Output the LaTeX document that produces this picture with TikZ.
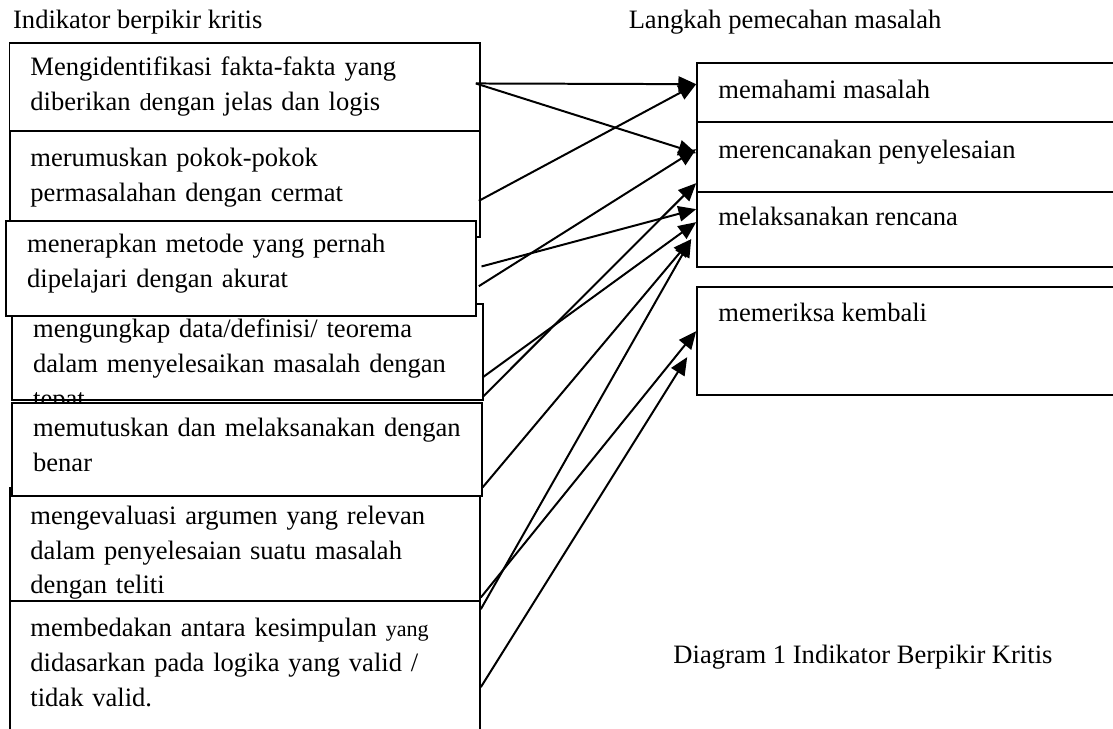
\documentclass[tikz,border=0pt]{standalone}
\usepackage{fontspec}
\setmainfont{Liberation Serif}
\usetikzlibrary{arrows.meta,calc,fit}

\begin{document}
\begin{tikzpicture}[x=0.452pt, y=-0.452pt,
    kotak/.style={draw, fill=white, line width=0.75pt, inner sep=0pt},
    teks/.style={anchor=base west, inner sep=0pt, align=left, text width=205pt, font=\fontsize{12pt}{15.7pt}\selectfont},
    judul/.style={anchor=base west, inner sep=0pt, font=\fontsize{12pt}{15.7pt}\selectfont},
    panah/.style={-{Triangle[length=8pt, width=7pt]}, line width=0.9pt}]
\clip (0,0) rectangle (1113,729);

\node[judul] (jkiri) at (12.7,29) {Indikator berpikir kritis};
\node[judul] (jkanan) at (628.3,29) {Langkah pemecahan masalah};

% indikator berpikir kritis
\node[kotak, fit={(9.5,42.7) (480,130.7)}] (ind1) {};
\node[teks] (t1) at (30,76) {Mengidentifikasi fakta-fakta yang\\diberikan {\fontsize{11pt}{15.7pt}\selectfont d}engan jelas dan logis};
\node[kotak, fit={(10,131) (480,236.7)}] (ind2) {};
\node[teks] (t2) at (30,166.7) {merumuskan pokok-pokok\\permasalahan dengan cermat};
\node[kotak, fit={(12,304) (482.7,400)}] (ind4) {};
\node[teks] (t4) at (32.7,337.7) {mengungkap data/definisi/ teorema\\dalam menyelesaikan masalah dengan\\tepat};
\node[kotak, fit={(6,220.7) (476,316)}] (ind3) {};
\node[teks] (t3) at (26.7,253) {menerapkan metode yang pernah\\dipelajari dengan akurat};
\node[kotak, fit={(10,601) (480,760)}] (ind7) {};
\node[teks] (t7) at (30,636.7) {membedakan antara kesimpulan {\fontsize{10pt}{15.7pt}\selectfont yang}\\didasarkan pada logika yang valid /\\tidak valid.};
\node[kotak, fit={(10,488) (480,600.7)}] (ind6) {};
\node[teks] (t6) at (30,524.3) {mengevaluasi argumen yang relevan\\dalam penyelesaian suatu masalah\\dengan teliti};
\node[kotak, fit={(12,402.7) (481.7,496)}] (ind5) {};
\node[teks] (t5) at (32.7,436.7) {memutuskan dan melaksanakan dengan\\benar};

% langkah pemecahan masalah
\node[kotak, fit={(697,63) (1120,122)}] (lk1) {};
\node[judul] (s1) at (718,98.3) {memahami masalah};
\node[kotak, fit={(697,122) (1120,192)}] (lk2) {};
\node[judul] (s2) at (718,158.3) {merencanakan penyelesaian};
\node[kotak, fit={(697,192) (1120,267)}] (lk3) {};
\node[judul] (s3) at (718,226) {melaksanakan rencana};
\node[kotak, fit={(697,287) (1120,395)}] (lk4) {};
\node[judul] (s4) at (718,321.7) {memeriksa kembali};

\node[judul] (cap) at (673,663) {Diagram 1 Indikator Berpikir Kritis};

\draw[panah] ($(ind1.north east)+(-5,41.6)$) -- ($(lk1.north west)+(0,22)$);
\draw[panah] ($(ind1.north east)+(-5,41.6)$) -- ($(lk2.north west)+(0,32)$);
\draw[panah] ($(ind2.north east)+(-2,70.7)$) -- ($(lk1.north west)+(0,22)$);
\draw[panah] ($(ind3.north east)+(2,66.3)$) -- ($(lk2.north west)+(0,28)$);
\draw[panah] ($(ind3.north east)+(4.7,46.6)$) -- ($(lk3.north west)+(0,18)$);
\draw[panah] ($(ind4.north east)+(-1,74.3)$) -- ($(lk3.north west)+(0,31)$);
\draw[panah] ($(ind4.north east)+(-1,94)$) -- ($(lk2.north west)+(0,62)$);
\draw[panah] ($(ind5.north east)+(0,85.6)$) -- ($(lk3.north west)+(-5,48)$);
\draw[panah] ($(ind6.north east)+(0,110.3)$) -- ($(lk4.north west)+(0,45)$);
\draw[panah] ($(ind7.north east)+(0,9)$) -- ($(lk3.north west)+(-5,48)$);
\draw[panah] ($(ind7.north east)+(0,87)$) -- ($(lk4.north west)+(-9,71)$);
\end{tikzpicture}
\end{document}
